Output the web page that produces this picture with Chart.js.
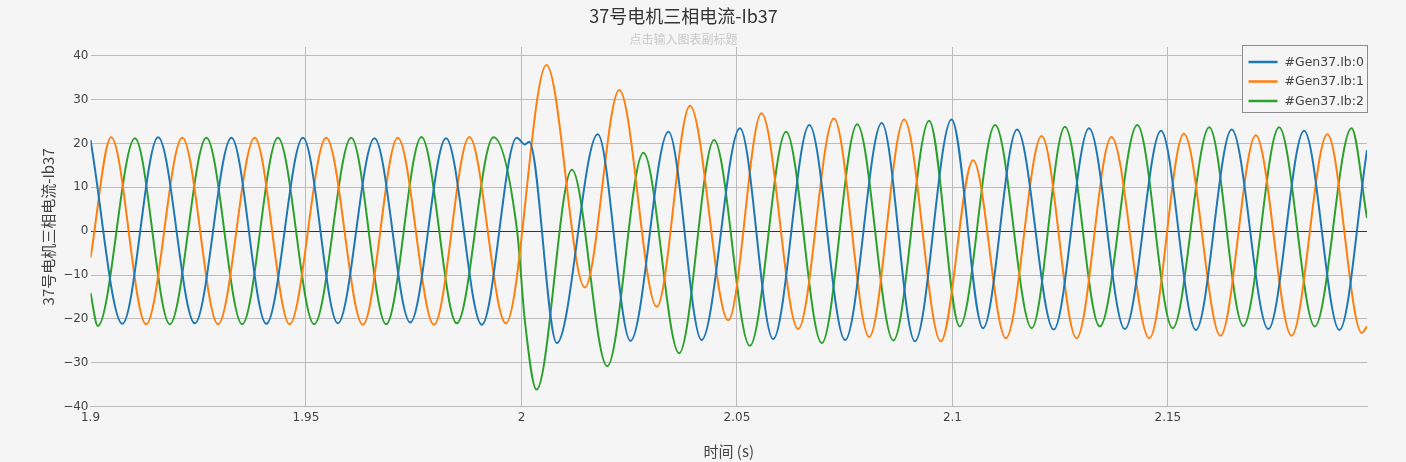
<!DOCTYPE html>
<html><head><meta charset="utf-8">
<script src="https://cdn.jsdelivr.net/npm/chart.js@4.4.1/dist/chart.umd.min.js"></script>
<style>html,body{margin:0;padding:0;background:#f5f5f5;}canvas{display:block}</style>
</head><body>
<canvas id="c" width="1406" height="462"></canvas>
<script>
// ---- data (extrema / key points of each trace) ----
const seriesNames = ['#Gen37.Ib:0', '#Gen37.Ib:1', '#Gen37.Ib:2'];

const ib0Time  = [1.9000,1.9074,1.9157,1.9242,1.9327,1.9408,1.9493,1.9574,1.9659,1.9742,1.9825,1.9908,1.9989,2.0008,2.0018,2.0082,2.0177,2.0253,2.0341,2.0418,2.0507,2.0584,2.0668,2.0751,2.0836,2.0913,2.0998,2.1071,2.1150,2.1235,2.1317,2.1400,2.1484,2.1565,2.1648,2.1733,2.1816,2.1898,2.1962];
const ib0Value = [20.8,-21.1,21.4,-21.0,21.3,-21.1,21.3,-21.0,21.2,-20.8,21.2,-21.3,21.3,19.8,20.4,-25.5,22.1,-25.0,22.7,-24.8,23.5,-24.6,24.2,-24.8,24.7,-25.1,25.5,-22.1,23.2,-22.4,23.5,-22.3,22.9,-22.5,23.2,-22.3,22.9,-22.5,18.5];

const ib1Time  = [1.9000,1.9048,1.9129,1.9213,1.9296,1.9381,1.9462,1.9547,1.9632,1.9713,1.9797,1.9879,1.9964,2.0058,2.0147,2.0227,2.0314,2.0391,2.0480,2.0557,2.0642,2.0725,2.0807,2.0888,2.0973,2.1048,2.1124,2.1207,2.1288,2.1369,2.1457,2.1537,2.1622,2.1704,2.1787,2.1870,2.1950,2.1962];
const ib1Value = [-6.0,21.4,-21.2,21.3,-21.2,21.3,-21.2,21.3,-21.3,21.3,-21.3,21.5,-21.0,37.9,-12.8,32.2,-17.2,28.6,-20.3,26.9,-22.3,25.7,-24.1,25.5,-25.1,16.2,-24.4,21.7,-24.4,21.5,-24.4,22.2,-23.8,21.9,-23.8,22.1,-23.2,-21.7];

const ib2Time  = [1.9000,1.9017,1.9103,1.9184,1.9269,1.9352,1.9435,1.9519,1.9605,1.9686,1.9768,1.9850,1.9935,1.9990,2.0008,2.0035,2.0117,2.0199,2.0283,2.0366,2.0447,2.0530,2.0614,2.0697,2.0779,2.0863,2.0946,2.1017,2.1099,2.1184,2.1261,2.1342,2.1429,2.1511,2.1596,2.1675,2.1758,2.1841,2.1926,2.1962];
const ib2Value = [-14.1,-21.6,21.2,-21.2,21.3,-21.2,21.3,-21.2,21.3,-21.2,21.5,-21.0,21.4,0.0,-20.5,-36.1,14.0,-30.8,17.9,-27.8,20.8,-26.1,22.7,-25.5,24.4,-24.9,25.2,-21.7,24.2,-22.1,23.8,-21.7,24.2,-22.1,23.7,-21.6,23.7,-21.7,23.5,3.0];

const xTicks      = [1.9, 1.95, 2.0, 2.05, 2.1, 2.15];
const xTickLabels = ['1.9', '1.95', '2', '2.05', '2.1', '2.15'];
const yTicks      = [-40, -30, -20, -10, 0, 10, 20, 30, 40];
const yTickLabels = ['\u221240', '\u221230', '\u221220', '\u221210', '0', '10', '20', '30', '40'];

const chartTitle    = '37号电机三相电流-Ib37';
const chartSubtitle = '点击输入图表副标题';
const xTitle = '时间 (s)';
const yTitle = '37号电机三相电流-Ib37';

// ---- build ----
const toPts = (t, v) => t.map((x, i) => ({ x: x, y: v[i] }));
const CJK = '"Noto Sans CJK SC", "DejaVu Sans", sans-serif';
Chart.defaults.font.family = '"DejaVu Sans", sans-serif';

const bgPlugin = {
  id: 'bg',
  beforeDraw(chart) {
    const c = chart.ctx;
    c.save(); c.fillStyle = '#f5f5f5'; c.fillRect(0, 0, chart.width, chart.height); c.restore();
  }
};

const boxLegend = {
  id: 'boxLegend',
  afterDraw(chart) {
    const c = chart.ctx, a = chart.chartArea;
    const w = 125, h = 67;
    const x0 = Math.round(a.right - w) + 0.5, y0 = Math.round(a.top - 2) + 0.5;
    c.save();
    c.fillStyle = '#f5f5f5';
    c.fillRect(x0, y0, w, h);
    c.strokeStyle = '#8c8c8c'; c.lineWidth = 1;
    c.strokeRect(x0, y0, w, h);
    c.font = '12.5px "DejaVu Sans", sans-serif';
    c.textBaseline = 'middle'; c.textAlign = 'left';
    chart.data.datasets.forEach((ds, i) => {
      const y = y0 + 16.5 + i * 19.5;
      c.strokeStyle = ds.borderColor; c.lineWidth = 2.5;
      c.beginPath(); c.moveTo(x0 + 6, y); c.lineTo(x0 + 35, y); c.stroke();
      c.fillStyle = '#444';
      c.fillText(ds.label, x0 + 42, y + 0.5);
    });
    c.restore();
  }
};

new Chart(document.getElementById('c'), {
  type: 'line',
  data: {
    datasets: [
      { label: seriesNames[0], data: toPts(ib0Time, ib0Value), borderColor: '#1f77b4' },
      { label: seriesNames[1], data: toPts(ib1Time, ib1Value), borderColor: '#ff7f0e' },
      { label: seriesNames[2], data: toPts(ib2Time, ib2Value), borderColor: '#2ca02c' }
    ]
  },
  options: {
    responsive: false,
    animation: false,
    parsing: true,
    datasets: { line: { borderWidth: 2, pointRadius: 0, cubicInterpolationMode: 'monotone', fill: false } },
    layout: { padding: { left: 0, right: 39, top: 0, bottom: 0 } },
    plugins: {
      legend: { display: false },
      tooltip: { enabled: false },
      title: {
        display: true, text: chartTitle, color: '#333',
        font: { family: CJK, size: 18, weight: 'normal' },
        padding: { top: 5, bottom: 2 }
      },
      subtitle: {
        display: true, text: chartSubtitle, color: '#c9c9c9',
        font: { family: CJK, size: 12, weight: 'normal' },
        padding: { top: 4, bottom: 0 }
      }
    },
    scales: {
      x: {
        type: 'linear', min: 1.9, max: 2.1962,
        afterBuildTicks: s => { s.ticks = xTicks.map(v => ({ value: v })); },
        afterFit: s => { s.height = 55.3; },
        ticks: {
          color: '#444', font: { size: 12 }, padding: 4, maxRotation: 0,
          callback: (v, i) => xTickLabels[i]
        },
        grid: {
          drawTicks: false,
          color: ctx => (ctx.tick && ctx.tick.value === 1.9) ? 'rgba(0,0,0,0)' : '#bcbcbc'
        },
        border: { display: true, color: '#bcbcbc' },
        title: {
          display: true, text: xTitle, color: '#444',
          font: { family: CJK, size: 15 }, padding: { top: 0, bottom: 2 }
        }
      },
      y: {
        type: 'linear', min: -40, max: 42,
        afterBuildTicks: s => { s.ticks = yTicks.map(v => ({ value: v })); },
        afterFit: s => { s.width = 90.5; },
        ticks: {
          color: '#444', font: { size: 12 }, padding: 2,
          callback: (v, i) => yTickLabels[i]
        },
        grid: {
          drawTicks: false,
          color: ctx => (ctx.tick && ctx.tick.value === 0) ? '#333' : '#bcbcbc'
        },
        border: { display: false },
        title: {
          display: true, text: yTitle, color: '#444',
          font: { family: CJK, size: 15 }, padding: { top: 39, bottom: 0 }
        }
      }
    }
  },
  plugins: [bgPlugin, boxLegend]
});
</script>
</body></html>
